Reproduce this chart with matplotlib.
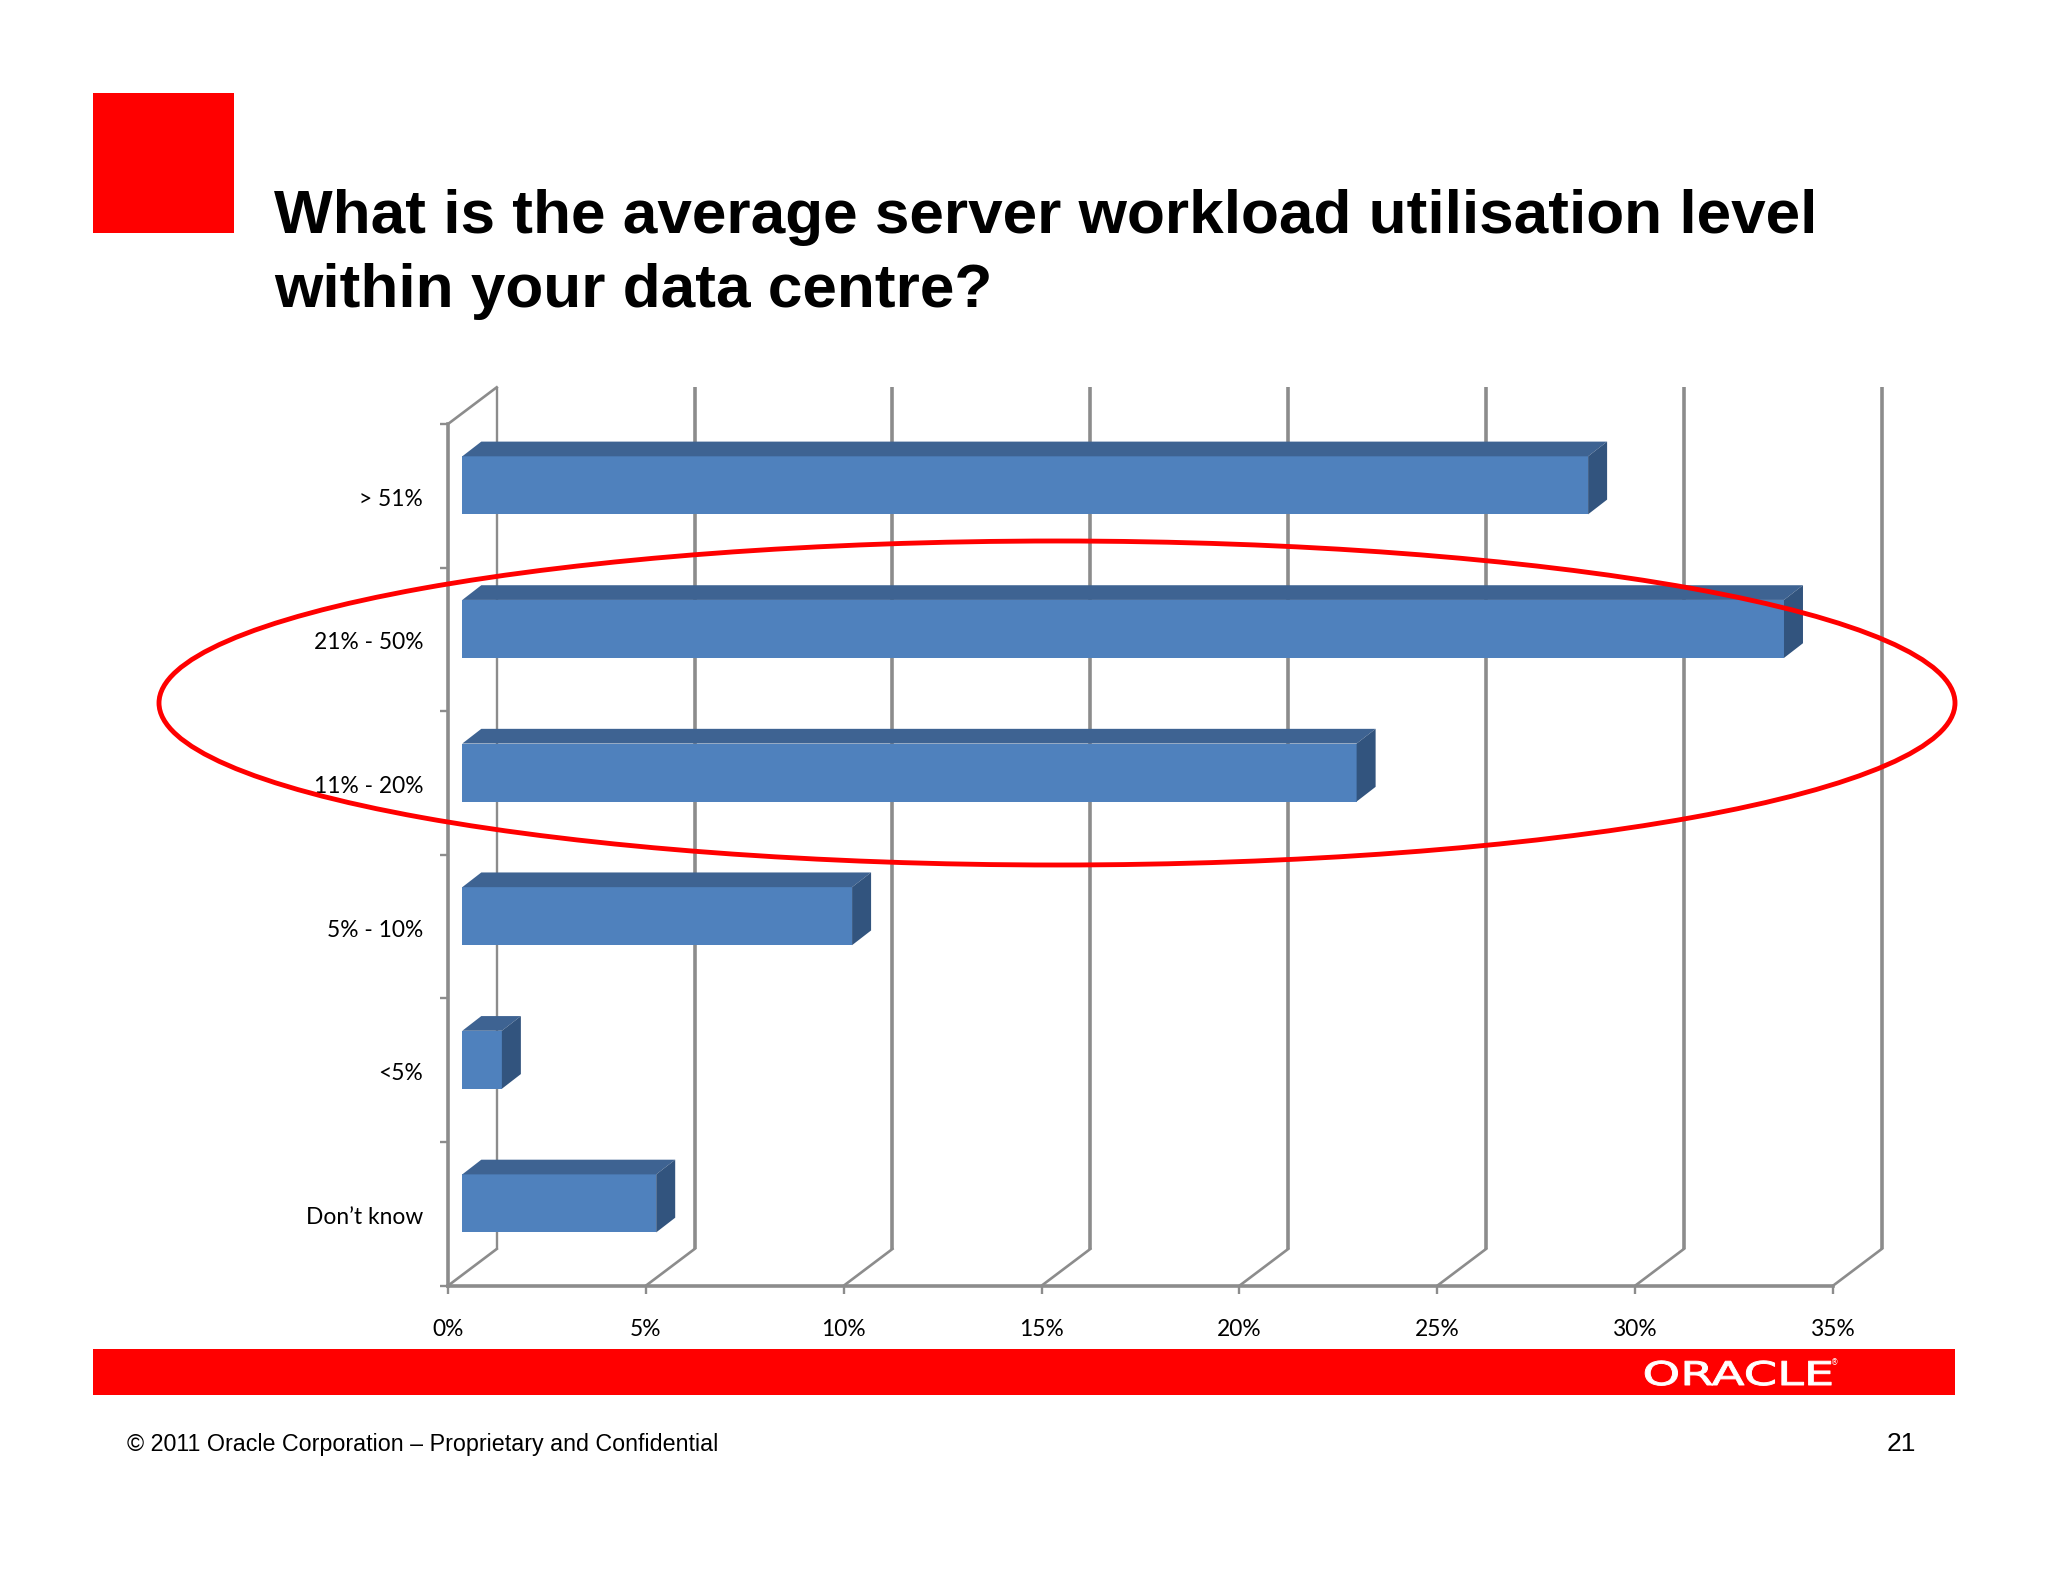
import matplotlib
matplotlib.use("Agg")
import matplotlib.pyplot as plt
from matplotlib.patches import Ellipse, Rectangle
from matplotlib.patheffects import AbstractPathEffect
from matplotlib.transforms import Affine2D

# ---- data ----
categories = ["> 51%", "21% - 50%", "11% - 20%", "5% - 10%", "<5%", "Don\u2019t know"]
values = [28.45, 33.4, 22.6, 9.85, 1.0, 4.9]
x_ticks = [0, 5, 10, 15, 20, 25, 30, 35]
x_labels = ["0%", "5%", "10%", "15%", "20%", "25%", "30%", "35%"]
title_line_1 = "What is the average server workload utilisation level"
title_line_2 = "within your data centre?"
footer = "\u00a9 2011 Oracle Corporation \u2013 Proprietary and Confidential"
page_number = "21"

# ---- layout (pixels) ----
W, H = 2048, 1582
L, R, T, B = 448.0, 1833.0, 424.0, 1285.7
PX = 35 / (R - L)      # data x per pixel
PY = 6 / (B - T)       # data y per pixel
WALL_X, WALL_Y = 48.7 * PX, 36.7 * PY
FRONT_X, FRONT_Y = 14.3 * PX, 10.5 * PY
DEPTH_X, DEPTH_Y = 19.0 * PX, 14.7 * PY
BAR_H = 58.0 * PY

FACE, TOP, SIDE = "#4f81bd", "#3e6392", "#32547e"
GRID = "#8c8c8c"
RED = "#ff0000"
LABEL_FONT = "Lato"
ARIAL = "Liberation Sans"

fig = plt.figure(figsize=(W / 100, H / 100), dpi=100, facecolor="white")
ax = fig.add_axes([L / W, 1 - B / H, (R - L) / W, (B - T) / H])
ax.set_xlim(0, 35)
ax.set_ylim(6, 0)
ax.patch.set_alpha(0)

# walls and floor lines
for i, xv in enumerate(x_ticks):
    lw = 1.7 if i == 0 else 2.6
    ax.plot([xv + WALL_X] * 2, [6 - WALL_Y, -WALL_Y], color=GRID, lw=lw, clip_on=False, zorder=1,
            solid_capstyle="butt")
    ax.plot([xv, xv + WALL_X], [6, 6 - WALL_Y], color=GRID, lw=1.9, clip_on=False, zorder=1)
ax.plot([0, WALL_X], [0, -WALL_Y], color=GRID, lw=1.9, clip_on=False, zorder=1)

# bars
centres = [i + 0.5 - FRONT_Y for i in range(len(categories))]
ax.barh(centres, values, left=FRONT_X, height=BAR_H, color=FACE, zorder=3)
for yc, v in zip(centres, values):
    x0, x1 = FRONT_X, FRONT_X + v
    yt, yb = yc - BAR_H / 2, yc + BAR_H / 2
    ax.fill([x0, x1, x1 + DEPTH_X, x0 + DEPTH_X], [yt, yt, yt - DEPTH_Y, yt - DEPTH_Y],
            color=TOP, lw=0, zorder=3, clip_on=False)
    ax.fill([x1, x1 + DEPTH_X, x1 + DEPTH_X, x1], [yt, yt - DEPTH_Y, yb - DEPTH_Y, yb],
            color=SIDE, lw=0, zorder=3, clip_on=False)

# axes
for s in ("top", "right"):
    ax.spines[s].set_visible(False)
for s in ("left", "bottom"):
    ax.spines[s].set_color(GRID)
    ax.spines[s].set_linewidth(2.6)
ax.set_xticks(x_ticks, x_labels, fontfamily=LABEL_FONT, fontsize=16.4, color="black")
ax.tick_params(axis="x", length=6, width=1.7, color=GRID, pad=18)
ax.set_yticks(range(7), [""] * 7)
ax.tick_params(axis="y", which="major", length=6, width=1.7, color=GRID)
ax.set_yticks([i + 0.5 for i in range(6)], categories, minor=True,
              fontfamily=LABEL_FONT, fontsize=16.4, color="black")
ax.tick_params(axis="y", which="minor", length=0, pad=18)
for lab in ax.get_yticklabels(minor=True):
    lab.set_transform(lab.get_transform() + Affine2D().translate(0, -1.5))

# page furniture
page = fig.add_axes([0, 0, 1, 1], zorder=5)
page.set_xlim(0, W)
page.set_ylim(H, 0)
page.axis("off")
page.patch.set_alpha(0)
page.add_patch(Rectangle((93, 93), 141, 140, color=RED, lw=0))
page.add_patch(Rectangle((93, 1349), 1862, 46, color=RED, lw=0))
page.add_patch(Ellipse((1057, 703), 1796, 324, fill=False, ec=RED, lw=3.5))
page.text(274, 232.5, title_line_1, family=ARIAL, weight="bold", fontsize=44.7, color="black",
          ha="left", va="baseline")
page.text(274, 307, title_line_2, family=ARIAL, weight="bold", fontsize=44.7, color="black",
          ha="left", va="baseline")
page.text(127, 1444.5, footer, family=ARIAL, fontsize=16.75, color="black", ha="left", va="center")
page.text(1915.5, 1444, page_number, family=ARIAL, fontsize=19, color="black", ha="right", va="center")


class StretchX(AbstractPathEffect):
    """Widen text about a display x position, as the logo lettering is extended."""
    def __init__(self, cx, sx, stroke):
        super().__init__()
        self.cx, self.sx, self.stroke = cx, sx, stroke

    def draw_path(self, renderer, gc, tpath, affine, rgbFace=None):
        stretched = affine + Affine2D().translate(-self.cx, 0).scale(self.sx, 1).translate(self.cx, 0)
        gc.set_foreground("white")
        gc.set_linewidth(self.stroke)
        renderer.draw_path(gc, tpath, stretched, rgbFace)


page.text(1738.5, 1385, "ORACLE", family="DejaVu Sans", fontsize=23.5, color="white",
          ha="center", va="baseline", path_effects=[StretchX(1738.5, 1.47, 0.7)])
page.text(1835, 1363, "\u00ae", family="DejaVu Sans", fontsize=5.5, color="white", ha="center", va="center")

fig.savefig("out.png", dpi=100, facecolor="white")
